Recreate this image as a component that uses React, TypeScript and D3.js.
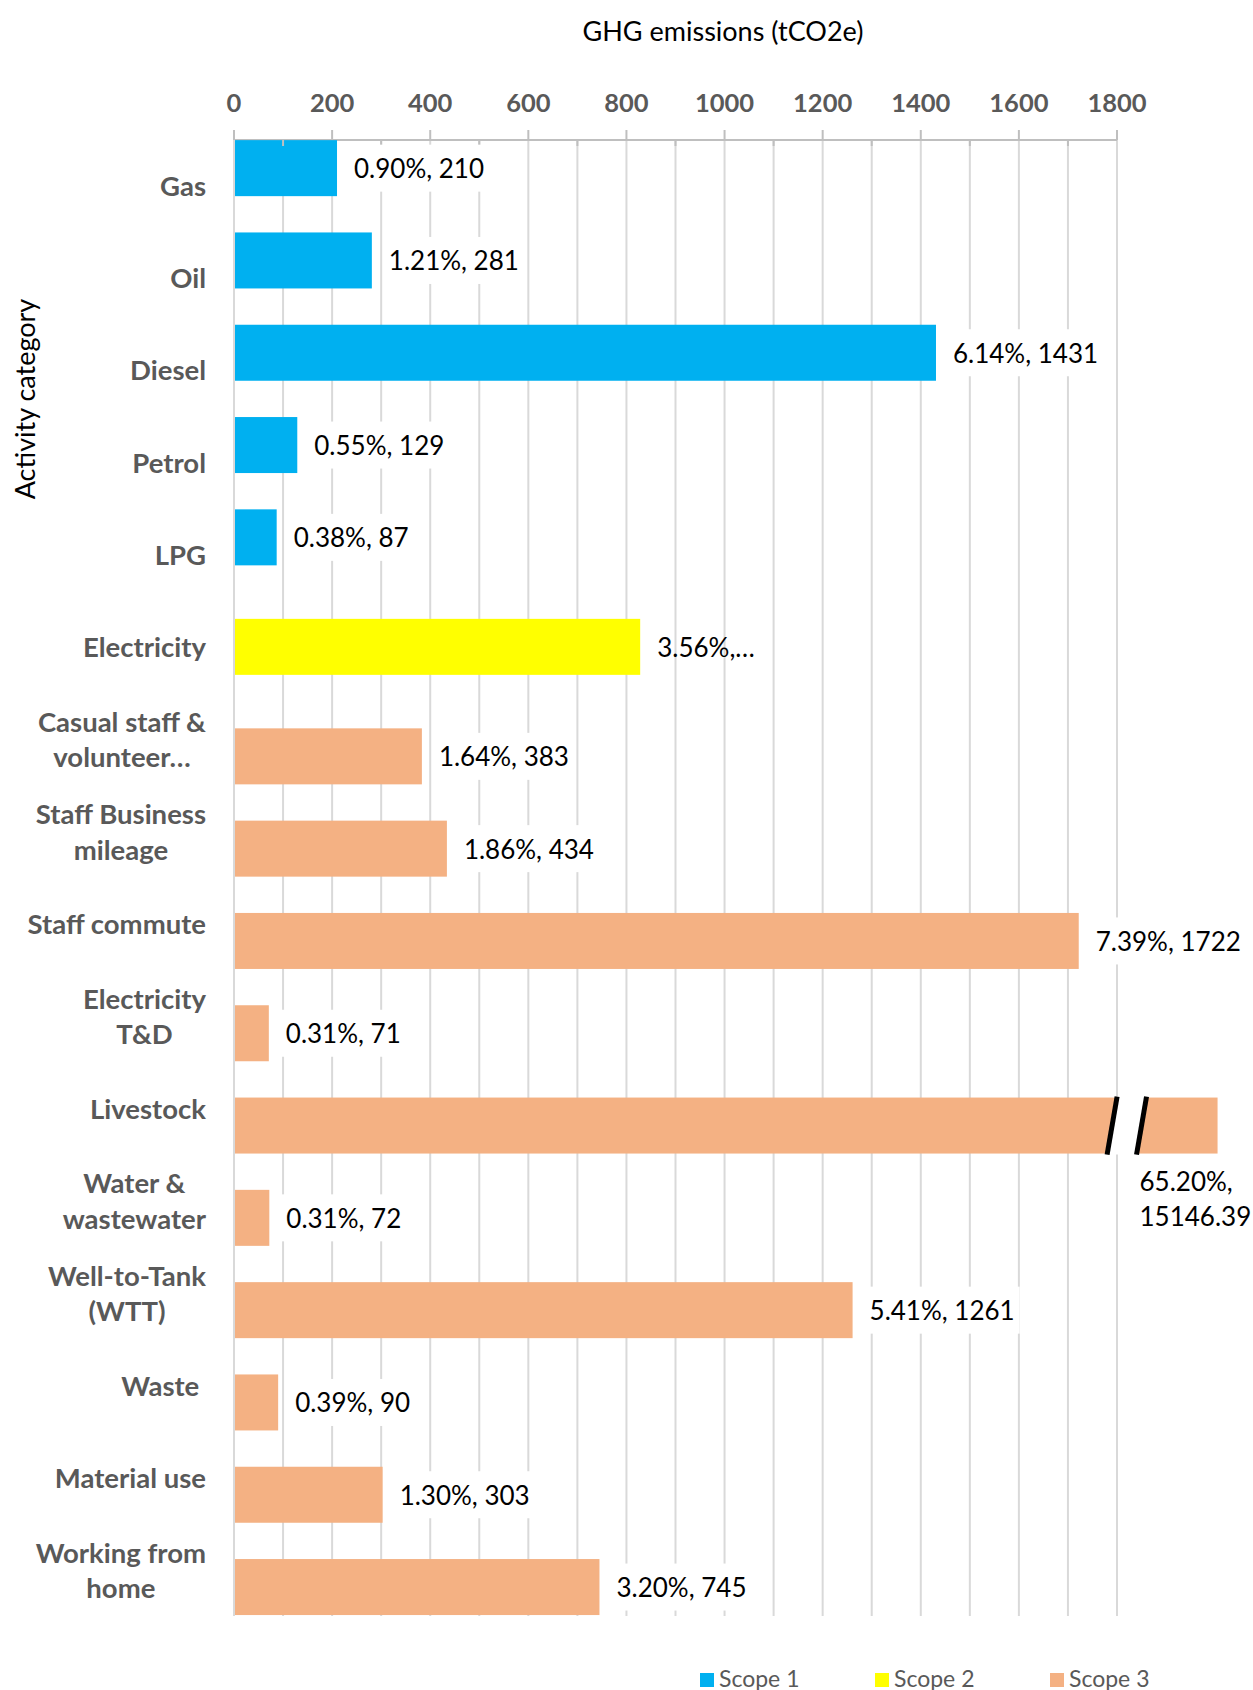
import React, { useEffect, useRef } from 'react';
import * as d3 from 'd3';

const categories = [
  'Gas', 'Oil', 'Diesel', 'Petrol', 'LPG', 'Electricity',
  'Casual staff & volunteer…', 'Staff Business mileage', 'Staff commute',
  'Electricity T&D', 'Livestock', 'Water & wastewater', 'Well-to-Tank (WTT)',
  'Waste ', 'Material use', 'Working from home',
];
const categoryLines = [
  ['Gas'], ['Oil'], ['Diesel'], ['Petrol'], ['LPG'], ['Electricity'],
  ['Casual staff &', 'volunteer…'], ['Staff Business', 'mileage'], ['Staff commute'],
  ['Electricity', 'T&D'], ['Livestock'], ['Water &', 'wastewater'], ['Well-to-Tank', '(WTT)'],
  ['Waste '], ['Material use'], ['Working from', 'home'],
];
const scopes = ['Scope 1', 'Scope 2', 'Scope 3'];
const scopeColors = ['#00B0F0', '#FFFF00', '#F4B183'];
const categoryScope = ['Scope 1', 'Scope 1', 'Scope 1', 'Scope 1', 'Scope 1', 'Scope 2',
  'Scope 3', 'Scope 3', 'Scope 3', 'Scope 3', 'Scope 3', 'Scope 3', 'Scope 3', 'Scope 3', 'Scope 3', 'Scope 3'];
const values = [210, 281, 1431, 129, 87, 828, 383, 434, 1722, 71, 15146.39, 72, 1261, 90, 303, 745];
const dataLabels = [
  ['0.90%, 210'], ['1.21%, 281'], ['6.14%, 1431'], ['0.55%, 129'], ['0.38%, 87'], ['3.56%,…'],
  ['1.64%, 383'], ['1.86%, 434'], ['7.39%, 1722'], ['0.31%, 71'], ['65.20%,', '15146.39'],
  ['0.31%, 72'], ['5.41%, 1261'], ['0.39%, 90'], ['1.30%, 303'], ['3.20%, 745'],
];
const xTicks = [0, 200, 400, 600, 800, 1000, 1200, 1400, 1600, 1800];
const xMinorTicks = [100, 300, 500, 700, 900, 1100, 1300, 1500, 1700];
const axisMax = 1800;
const brokenBarDisplay = 2005; // displayed extent of the broken (off-scale) bar
const breakLeft = 1790;
const breakRight = 1850;

const FONT = "Lato, 'Open Sans', sans-serif";

export default function App() {
  const ref = useRef<SVGSVGElement>(null);

  useEffect(() => {
    const svg = d3.select(ref.current);
    svg.selectAll('*').remove();

    const x = d3.scaleLinear().domain([0, axisMax]).range([234, 1117]);
    const y = d3.scaleBand<string>().domain(categories).range([139.2, 1616]);
    const s = d3.scalePoint<string>().domain(scopes).range([-17.2, 17.2]);
    const barH = 56;
    const top = 140;
    const bottom = 1616;
    const grid = '#d9d9d9';

    // Titles
    svg.append('text')
      .attr('x', 723).attr('y', 30)
      .attr('text-anchor', 'middle').attr('dominant-baseline', 'central')
      .attr('font-family', FONT).attr('font-size', 27).attr('fill', '#000')
      .text('GHG emissions (tCO2e)');

    svg.append('text')
      .attr('transform', 'translate(24,399) rotate(-90)')
      .attr('text-anchor', 'middle').attr('dominant-baseline', 'central')
      .attr('font-family', FONT).attr('font-size', 27).attr('fill', '#000')
      .text('Activity category');

    // Gridlines
    const allTicks = [...xTicks, ...xMinorTicks];
    svg.append('g').selectAll('line').data(allTicks).join('line')
      .attr('x1', d => x(d)).attr('x2', d => x(d))
      .attr('y1', top).attr('y2', bottom)
      .attr('stroke', grid).attr('stroke-width', 2);

    // Top axis line + major ticks
    svg.append('line')
      .attr('x1', x(0)).attr('x2', x(axisMax)).attr('y1', top).attr('y2', top)
      .attr('stroke', '#bfbfbf').attr('stroke-width', 2);
    svg.append('g').selectAll('line').data(xTicks).join('line')
      .attr('x1', d => x(d)).attr('x2', d => x(d))
      .attr('y1', top - 10).attr('y2', top)
      .attr('stroke', '#bfbfbf').attr('stroke-width', 2);

    // Tick labels
    svg.append('g').selectAll('text').data(xTicks).join('text')
      .attr('x', d => x(d)).attr('y', 102)
      .attr('text-anchor', 'middle').attr('dominant-baseline', 'central')
      .attr('font-family', FONT).attr('font-weight', 700).attr('font-size', 25.5)
      .attr('fill', '#595959')
      .text(d => String(d));

    // Bars
    const rows = categories.map((c, i) => ({
      c, i, v: values[i], scope: categoryScope[i],
      color: scopeColors[scopes.indexOf(categoryScope[i])],
      cy: (y(c) as number) + y.bandwidth() / 2 + (s(categoryScope[i]) as number),
    }));

    svg.append('g').selectAll('rect').data(rows).join('rect')
      .attr('x', x(0))
      .attr('y', d => d.cy - barH / 2)
      .attr('width', d => x(Math.min(d.v, brokenBarDisplay)) - x(0))
      .attr('height', barH)
      .attr('fill', d => d.color);

    // Left category axis line
    svg.append('line')
      .attr('x1', x(0)).attr('x2', x(0)).attr('y1', top).attr('y2', bottom)
      .attr('stroke', grid).attr('stroke-width', 2);

    // Minor ticks (inside)
    svg.append('g').selectAll('line').data(xMinorTicks).join('line')
      .attr('x1', d => x(d)).attr('x2', d => x(d))
      .attr('y1', top).attr('y2', top + 6)
      .attr('stroke', '#bfbfbf').attr('stroke-width', 2);

    // Axis break on off-scale bar
    rows.filter(d => d.v > axisMax).forEach(d => {
      const y0 = d.cy - barH / 2 - 1;
      const y1 = d.cy + barH / 2 + 1;
      const slant = 5;
      const xl = x(breakLeft);
      const xr = x(breakRight);
      svg.append('polygon')
        .attr('points', [
          [xl + slant, y0], [xr + slant, y0], [xr - slant, y1], [xl - slant, y1],
        ].map(p => p.join(',')).join(' '))
        .attr('fill', '#fff');
      [xl, xr].forEach(xx => {
        svg.append('line')
          .attr('x1', xx + slant).attr('y1', y0)
          .attr('x2', xx - slant).attr('y2', y1)
          .attr('stroke', '#000').attr('stroke-width', 5);
      });
    });

    // Data labels
    const lblSize = 26;
    const lineH = 35;
    rows.forEach(d => {
      const lines = dataLabels[d.i];
      const g = svg.append('g');
      let tx: number;
      let cy: number;
      if (d.v > axisMax) {
        tx = x(breakRight) - 2;
        cy = d.cy + barH / 2 + 45;
      } else {
        tx = x(d.v) + 17;
        cy = d.cy;
      }
      const bg = g.append('rect').attr('fill', '#fff');
      const texts = lines.map((t, k) =>
        g.append('text')
          .attr('x', tx)
          .attr('y', cy + (k - (lines.length - 1) / 2) * lineH)
          .attr('dominant-baseline', 'central')
          .attr('font-family', FONT).attr('font-size', lblSize).attr('fill', '#000')
          .text(t)
      );
      const w = d3.max(texts, t => (t.node() as SVGTextElement).getComputedTextLength()) || 0;
      const h = lines.length * lineH + 12;
      if (lines[0].endsWith('…')) {
        bg.remove();
      } else {
        bg.attr('x', tx - 5).attr('y', cy - h / 2).attr('width', w + 10).attr('height', h);
      }
    });

    // Category labels
    const catSize = 27.5;
    const catLineH = 35.6;
    const labelRight = 206;
    rows.forEach(d => {
      const lines = categoryLines[d.i];
      const bandC = (y(d.c) as number) + y.bandwidth() / 2;
      const texts = lines.map((t, k) =>
        svg.append('text')
          .attr('y', bandC + (k - (lines.length - 1) / 2) * catLineH)
          .attr('dominant-baseline', 'central')
          .attr('text-anchor', 'middle')
          .attr('font-family', FONT).attr('font-weight', 700).attr('font-size', catSize)
          .attr('fill', '#595959')
          .style('white-space', 'pre')
          .text(t)
      );
      const w = d3.max(texts, t => (t.node() as SVGTextElement).getComputedTextLength()) || 0;
      texts.forEach(t => t.attr('x', labelRight - w / 2));
    });

    // Legend
    const legendX = [700, 875, 1050];
    scopes.forEach((sc, k) => {
      svg.append('rect')
        .attr('x', legendX[k]).attr('y', 1673).attr('width', 14).attr('height', 14)
        .attr('fill', scopeColors[k]);
      svg.append('text')
        .attr('x', legendX[k] + 19).attr('y', 1687)
        .attr('font-family', FONT).attr('font-size', 23).attr('fill', '#595959')
        .text(sc);
    });
  }, []);

  return (
    <svg
      ref={ref}
      width={1253}
      height={1690}
      style={{ position: 'absolute', left: 0, top: 0, background: '#fff' }}
    />
  );
}
